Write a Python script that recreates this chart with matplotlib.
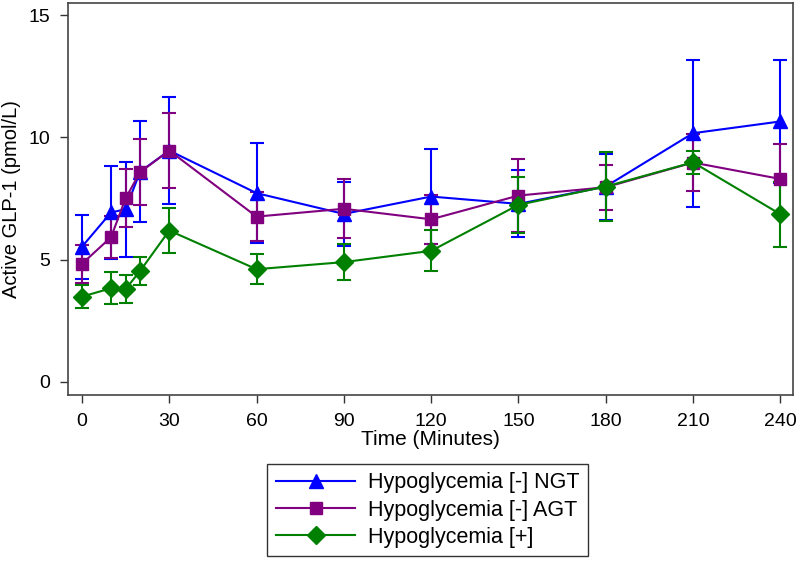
import numpy as np
import matplotlib.pyplot as plt

plt.rcParams['font.family'] = ['Liberation Sans', 'DejaVu Sans']

time = [0, 10, 15, 20, 30, 60, 90, 120, 150, 180, 210, 240]
xticks = [0, 30, 60, 90, 120, 150, 180, 210, 240]
yticks = [0, 5, 10, 15]

ngt_mean = [5.53, 6.93, 7.06, 8.6, 9.46, 7.72, 6.87, 7.58, 7.28, 7.99, 10.17, 10.65]
ngt_sem = [1.3, 1.9, 1.95, 2.05, 2.18, 2.03, 1.3, 1.95, 1.37, 1.35, 3.0, 2.52]

agt_mean = [4.83, 5.92, 7.51, 8.58, 9.46, 6.76, 7.08, 6.65, 7.62, 7.96, 8.97, 8.3]
agt_sem = [0.77, 0.86, 1.18, 1.36, 1.52, 1.0, 1.2, 1.01, 1.5, 0.93, 1.17, 1.42]

hypo_mean = [3.49, 3.83, 3.8, 4.54, 6.19, 4.61, 4.9, 5.36, 7.24, 7.99, 8.98, 6.86]
hypo_sem = [0.48, 0.66, 0.56, 0.58, 0.92, 0.61, 0.72, 0.84, 1.15, 1.42, 0.46, 1.33]

labels = ['Hypoglycemia [-] NGT', 'Hypoglycemia [-] AGT', 'Hypoglycemia [+]']

fig = plt.figure(figsize=(8, 5.65), dpi=100)
ax = fig.add_axes([0.085, 0.301, 0.906, 0.694])

ax.errorbar(time, ngt_mean, yerr=ngt_sem, color='#0000ff', marker='^', markersize=10,
            lw=1.5, capsize=5, capthick=1.5, elinewidth=1.5, label=labels[0])
ax.errorbar(time, agt_mean, yerr=agt_sem, color='#800080', marker='s', markersize=9,
            lw=1.5, capsize=5, capthick=1.5, elinewidth=1.5, label=labels[1])
ax.errorbar(time, hypo_mean, yerr=hypo_sem, color='#008000', marker='D', markersize=9,
            lw=1.5, capsize=5, capthick=1.5, elinewidth=1.5, label=labels[2])

ax.set_xlim(-4.8, 244.3)
ax.set_ylim(-0.53, 15.5)
ax.set_xticks(xticks)
ax.set_yticks(yticks)
ax.tick_params(direction='out', length=6, width=1, labelsize=14, pad=7,
               colors='#333333', labelcolor='black')
for s in ax.spines.values():
    s.set_color('#444444')
    s.set_linewidth(1.2)
ax.set_xlabel('Time (Minutes)', fontsize=15, labelpad=0)
ax.set_ylabel('Active GLP-1 (pmol/L)', fontsize=14.5, labelpad=5)

h, l = ax.get_legend_handles_labels()
h = [x[0] for x in h]
fig.legend(h, l, loc='upper left', bbox_to_anchor=(0.334, 0.179), borderaxespad=0,
           fontsize=15.5, frameon=True, fancybox=False, edgecolor='black', handlelength=3.7,
           borderpad=0.4, labelspacing=0.28, handletextpad=0.6)

fig.savefig('out.png', dpi=100)
